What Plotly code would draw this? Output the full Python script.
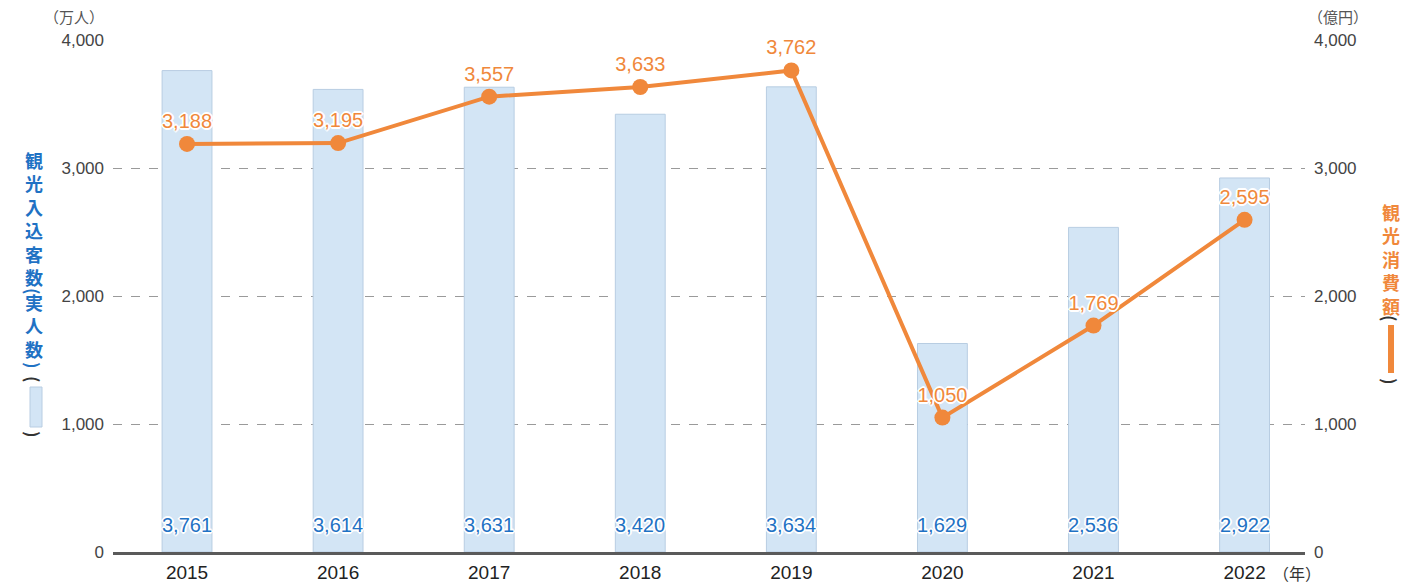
import plotly.graph_objects as go

years = ["2015", "2016", "2017", "2018", "2019", "2020", "2021", "2022"]
visitors = [3761, 3614, 3631, 3420, 3634, 1629, 2536, 2922]   # 万人
spending = [3188, 3195, 3557, 3633, 3762, 1050, 1769, 2595]   # 億円
y_ticks = [0, 1000, 2000, 3000, 4000]

JP = "Noto Sans CJK JP"
NUM = "Liberation Sans, Noto Sans CJK JP"
BLUE_TXT = "#1f72c4"
ORANGE = "#f0883b"
BAR = "#d3e5f5"
BAR_LINE = "#b8cde2"

W, H = 1428, 585
L, R, T, B = 113, 123, 40, 33
PW, PH = W - L - R, H - T - B

def px(x):
    return (x - L) / PW

def py(y):
    return (H - B - y) / PH

outline = ("1px 1px 0 #fff, -1px -1px 0 #fff, 1px -1px 0 #fff, -1px 1px 0 #fff, "
           "2px 0 0 #fff, -2px 0 0 #fff, 0 2px 0 #fff, 0 -2px 0 #fff")

fig = go.Figure()
fig.add_trace(go.Bar(
    x=years, y=visitors, width=0.33,
    marker=dict(color=BAR, line=dict(color=BAR_LINE, width=1)),
    yaxis="y", hoverinfo="skip",
))
fig.add_trace(go.Scatter(
    x=years, y=spending, mode="lines+markers+text",
    line=dict(color=ORANGE, width=4),
    marker=dict(color=ORANGE, size=16),
    text=[f"{v:,}" for v in spending],
    textposition="top center",
    textfont=dict(family=NUM, size=20, color=ORANGE, shadow=outline),
    cliponaxis=False, yaxis="y2",
))

fig.update_layout(
    width=W, height=H,
    margin=dict(l=L, r=R, t=T, b=B, pad=0, autoexpand=False),
    plot_bgcolor="white", paper_bgcolor="white",
    showlegend=False,
    font=dict(family=NUM, color="#444"),
    xaxis=dict(
        type="category", range=[-0.49, 7.40], automargin=False,
        showline=True, linecolor="#5a5a5a", linewidth=3,
        showgrid=False, ticks="", zeroline=False,
        ticklabelstandoff=1,
        tickfont=dict(family=NUM, size=19, color="#222"),
    ),
    yaxis=dict(
        range=[0, 4000], tickvals=y_ticks, tickformat=",", automargin=False,
        showgrid=True, gridcolor="#9a9a9a", griddash="dash", gridwidth=1,
        zeroline=False, showline=False, ticks="",
        ticklabelstandoff=8,
        tickfont=dict(family=NUM, size=17, color="#444"),
    ),
    yaxis2=dict(
        range=[0, 4000], tickvals=y_ticks, tickformat=",", automargin=False,
        overlaying="y", side="right",
        showgrid=False, zeroline=False, showline=False, ticks="",
        ticklabelstandoff=8,
        tickfont=dict(family=NUM, size=17, color="#444"),
    ),
)

ann = []
# bar value labels near the bar bottoms (x given as category index)
for i, v in enumerate(visitors):
    ann.append(dict(text=f"{v:,}", x=i, y=0, xref="x", yref="paper", yshift=27,
                    xanchor="center", yanchor="middle", showarrow=False,
                    font=dict(family=NUM, size=20, color=BLUE_TXT, shadow=outline)))

def add_txt(text, x, y, size, color, weight="normal", rot=0, family=JP):
    ann.append(dict(text=text, x=px(x), y=py(y), xref="paper", yref="paper",
                    xanchor="center", yanchor="middle", textangle=rot,
                    showarrow=False,
                    font=dict(family=family, size=size, color=color, weight=weight)))

# unit labels
add_txt("（万人）", 74, 16, 15, "#555")
add_txt("（億円）", 1338, 16, 15, "#555")
add_txt("（年）", 1297, 573, 16, "#333")

# left vertical title (stacked characters; parentheses turned sideways)
add_txt("<br>".join("観光入込客数"), 34, 218.5, 18, BLUE_TXT, "bold")
add_txt("(", 34, 291, 17, BLUE_TXT, "bold", 90)
add_txt("<br>".join("実人数"), 34, 325.5, 18, BLUE_TXT, "bold")
add_txt(")", 34, 365, 17, BLUE_TXT, "bold", 90)
add_txt("(", 34, 379, 17, "#333", "bold", 90)
add_txt(")", 34, 434, 17, "#333", "bold", 90)
# right vertical title
add_txt("<br>".join("観光消費額"), 1391, 258.5, 18, ORANGE, "bold")
add_txt("(", 1391, 318, 17, "#333", "bold", 90)
add_txt(")", 1391, 381, 17, "#333", "bold", 90)
fig.update_layout(annotations=ann)

shapes = [
    dict(type="rect", xref="paper", yref="paper",
         x0=px(30), x1=px(42), y0=py(427), y1=py(387),
         fillcolor=BAR, line=dict(color=BAR_LINE, width=1)),
    dict(type="rect", xref="paper", yref="paper",
         x0=px(1388), x1=px(1394), y0=py(373), y1=py(325),
         fillcolor=ORANGE, line=dict(width=0)),
]
fig.update_layout(shapes=shapes)

fig.write_html("out.html", config={"displayModeBar": False},
               post_script="document.body.style.margin='0';document.body.style.overflow='hidden';")
